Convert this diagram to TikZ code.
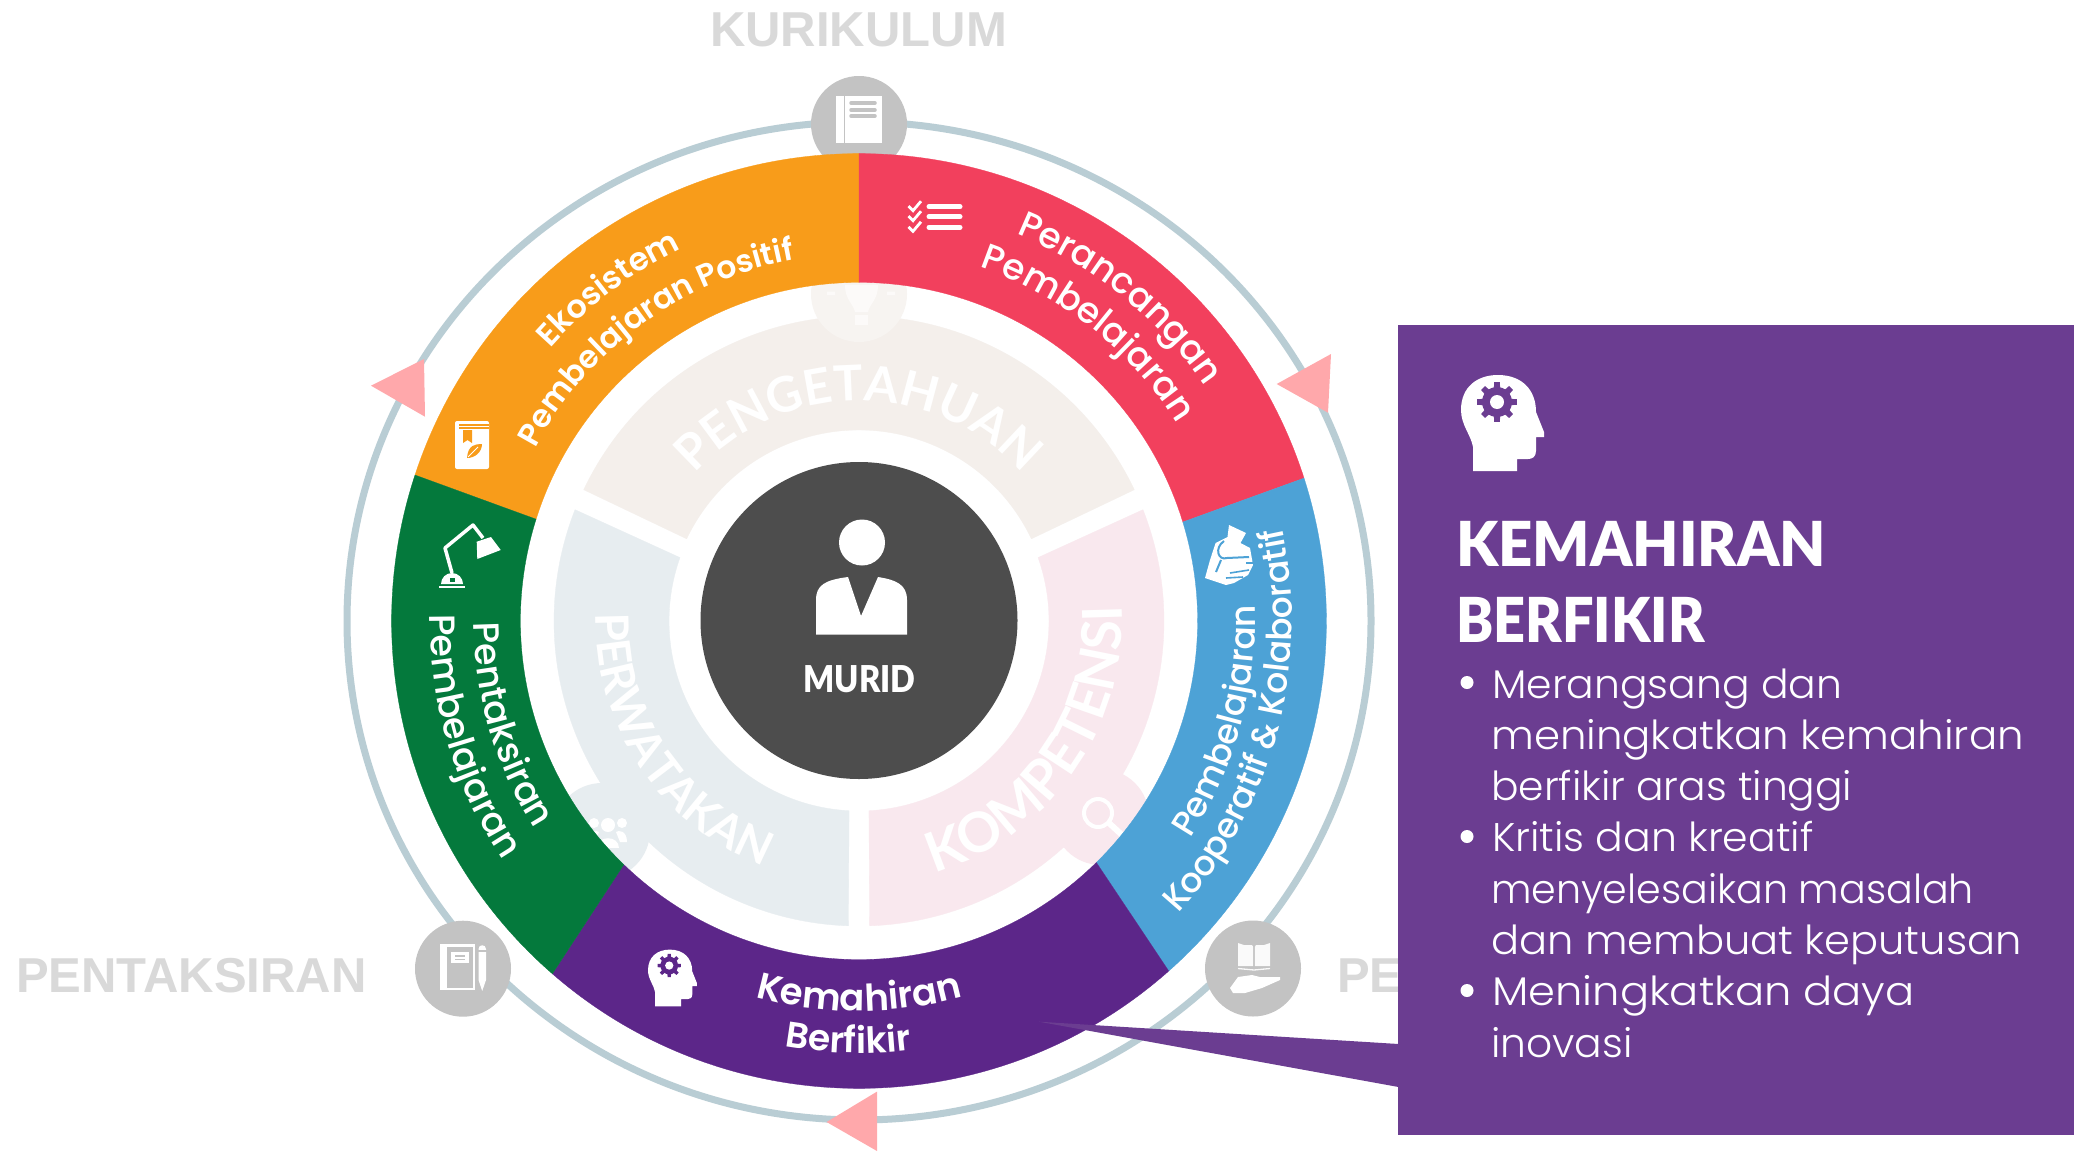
\documentclass[tikz,border=0pt]{standalone}
\usepackage{fontspec}
\usepackage{graphicx}
\setmainfont{Poppins}
\newfontfamily\fL{Poppins Light}
\newfontfamily\fM{Poppins Medium}
\newfontfamily\fS{Poppins SemiBold}
\newfontfamily\fB{Lato}[BoldFont=* Bold]
\newfontfamily\fH{Lato Black}
\newfontfamily\fA{Liberation Sans}
\usetikzlibrary{decorations.text,calc}
\definecolor{cring}{HTML}{B9CDD4}
\definecolor{cgrey}{HTML}{C3C3C3}
\definecolor{clabel}{HTML}{D9D9D9}
\definecolor{corange}{HTML}{F89C1A}
\definecolor{cred}{HTML}{F2405D}
\definecolor{cblue}{HTML}{4DA2D6}
\definecolor{cpurple}{HTML}{5C2689}
\definecolor{cgreen}{HTML}{04793C}
\definecolor{cdark}{HTML}{4D4D4D}
\definecolor{cpanel}{HTML}{6B3D91}
\definecolor{cpink}{HTML}{FFA8AB}
\definecolor{cpa}{HTML}{F4EFEB}
\definecolor{cpb}{HTML}{E7EDF0}
\definecolor{cpc}{HTML}{F9E8EE}
\tikzset{
  toplabel/.style={anchor=base west,inner sep=0pt,text=clabel,font=\fA\bfseries\fontsize{49}{49}\selectfont},
  bodyline/.style={anchor=base west,inner sep=0pt,text=white,font=\fL\fontsize{40}{40}\selectfont},
  headline/.style={anchor=base west,inner sep=0pt,text=white,font=\fH\fontsize{62}{62}\selectfont},
  greycirc/.style={fill=cgrey},
}
\newcommand\annul[7]{\path[fill=#1,draw=#1,line width=.3pt] (#2:#6) arc[start angle=#2,end angle=#3,radius=#6] -- (#4:#7) arc[start angle=#4,end angle=#5,radius=#7] -- cycle;}
\newcommand\arctext[5]{\path[decorate,decoration={text along path,text align=center,text={|\color{white}#1|#2}}] (#3:#5) arc[start angle=#3,end angle=#4,radius=#5];}
\newcommand\headgear[4]{\begin{scope}[shift={(#1,-#2)},scale=#3]
 \fill[white] (12,-96) -- (12,-72) .. controls (10,-60) and (0,-50) .. (0,-35) .. controls (0,-12) and (16,0) .. (37,0) .. controls (60,0) and (75,-14) .. (75,-37) -- (83,-57) -- (83,-62) -- (75,-62) -- (75,-76) .. controls (75,-82) and (71,-84) .. (67,-84) -- (56,-84) -- (56,-96) -- cycle;
 \foreach \a in {0,45,...,315}{\fill[#4] ($(36,-27)+(\a-13:14)$) -- ($(36,-27)+(\a-8:20)$) -- ($(36,-27)+(\a+8:20)$) -- ($(36,-27)+(\a+13:14)$) -- cycle;}
 \fill[#4] (36,-27) circle[radius=15];
 \fill[white] (36,-27) circle[radius=7];
\end{scope}}
\begin{document}
\begin{tikzpicture}[x=1pt,y=1pt]
\useasboundingbox (0,0) rectangle (2082,-1151);
\fill[white] (0,0) rectangle (2082,-1151);
% outer ring
\draw[cring,line width=7pt] (859,-621) ellipse[x radius=512,y radius=499];
% grey icon circles
\fill[greycirc] (859,-124) circle[radius=48];
\fill[greycirc] (463,-968.7) circle[radius=48];
\fill[greycirc] (1253,-968.5) circle[radius=48];
% top book
\fill[white] (835.5,-96) rectangle (843.5,-143);
\fill[white] (845,-96) rectangle (881.5,-143);
\foreach \yy in {103,110,116}{\draw[cgrey,line width=3.5pt,line cap=round] (851,-\yy) -- (875,-\yy);}
% notebook and pencil
\fill[white] (440,-944) rectangle (475,-990);
\fill[cgrey] (447,-946.5) rectangle (473,-987.5);
\fill[white] (451,-952) rectangle (469,-963);
\draw[cgrey,line width=1.5pt] (455,-956) -- (465,-956) (455,-959.5) -- (465,-959.5);
\fill[white] (478.5,-949) .. controls (478.5,-944) and (486,-944) .. (486,-949) -- (486,-980) -- (482.2,-991) -- (478.5,-980) -- cycle;
\draw[cgrey,line width=1.2pt] (478,-951) -- (487,-951);
% book on hand
\fill[white!92!cgrey] (1238,-943) -- (1244,-945) -- (1252,-945) -- (1253.2,-947) -- (1253.2,-966) -- (1238,-966) -- cycle;
\fill[white!92!cgrey] (1270,-943) -- (1264,-945) -- (1256,-945) -- (1254.8,-947) -- (1254.8,-966) -- (1270,-966) -- cycle;
\draw[white!92!cgrey,line width=1.3pt] (1238,-968.5) -- (1254,-970) -- (1270,-968.5);
\fill[white] (1230,-988) -- (1238,-977) -- (1252,-975) -- (1260,-977) -- (1280,-977) -- (1280,-980) -- (1262,-988) -- (1245,-993) -- (1233,-993) -- cycle;
% labels
\node[toplabel] (lkur) at (710,-46.5) {KURIKULUM};
\node[toplabel] (lpen) at (16,-992) {PENTAKSIRAN};
\node[toplabel] (lpe) at (1337,-992) {PE};
\begin{scope}[shift={(859,-621)}]
\annul{cpa}{154.5}{25.5}{25.5}{154.5}{305}{191}
\annul{cpb}{158.6}{268}{267}{160.5}{305}{190}
\annul{cpc}{-88}{21.4}{19.5}{-87}{305}{190}
\end{scope}
% faint circles
\fill[cpa!70!white] (859,-294) circle[radius=48];
\fill[cpb] (602,-831) circle[radius=48];
\fill[cpc] (1101,-817) circle[radius=48];
% bulb
\fill[white!70!cpa] (845,-285) .. controls (845,-300) and (853,-303) .. (855,-312) -- (868,-312) .. controls (870,-303) and (878,-300) .. (878,-285) -- cycle;
\fill[white!70!cpa] (855,-315) rectangle (868,-325);
\fill[white!70!cpa] (827,-291.5) rectangle (835,-295) (887,-291.5) rectangle (895,-295);
% people
\fill[white] (608,-825) circle[radius=7] (594,-823) circle[radius=5] (622,-823) circle[radius=5];
\fill[white] (597,-848) .. controls (597,-835) and (619,-835) .. (619,-848) -- cycle;
\fill[white] (588,-842) .. controls (588,-830) and (597,-830) .. (599,-832) -- (595,-842) -- cycle;
\fill[white] (627,-842) .. controls (627,-830) and (618,-830) .. (616,-832) -- (620,-842) -- cycle;
% magnifier
\draw[white,line width=4pt] (1098,-813) circle[radius=14];
\draw[white,line width=6pt] (1109,-823) -- (1122,-835);
\begin{scope}[shift={(859,-621)}]
% pale sector texts
\arctext{\fB\bfseries\fontsize{49}{49}\selectfont}{PENGETAHUAN}{140}{40}{220}
\arctext{\fB\bfseries\fontsize{46}{46}\selectfont}{PERWATAKAN}{157}{270}{263}
\arctext{\fB\bfseries\fontsize{55}{55}\selectfont}{KOMPETENSI}{-90}{20}{263}
% coloured ring
\annul{corange}{161.8}{90}{90}{162.5}{467.4}{338.6}
\annul{cred}{90}{17.8}{17}{90}{467.4}{338.6}
\annul{cblue}{17.8}{-48.5}{-45.5}{17}{467.4}{338.6}
\annul{cpurple}{-48.5}{-131}{-134}{-45.5}{467.4}{338.6}
\annul{cgreen}{229}{161.8}{162.5}{226}{467.4}{338.6}
% ring texts
\arctext{\fS\fontsize{32}{32}\selectfont}{Ekosistem}{160}{94}{412}
\arctext{\fS\fontsize{31.5}{31.5}\selectfont}{Pembelajaran Positif}{164}{88}{367}
\arctext{\fM\fontsize{36}{36}\selectfont}{Perancangan}{80}{22}{418}
\arctext{\fM\fontsize{36}{36}\selectfont}{Pembelajaran}{80}{23}{374}
\arctext{\fM\fontsize{34.5}{34.5}\selectfont}{Pembelajaran}{-50}{19}{396}
\arctext{\fM\fontsize{34.5}{34.5}\selectfont}{Kooperatif {\&} Kolaboratif}{-65}{35}{433}
\arctext{\fM\fontsize{36.5}{36.5}\selectfont}{Pentaksiran}{165}{228}{385}
\arctext{\fM\fontsize{36.5}{36.5}\selectfont}{Pembelajaran}{161}{232}{429}
\arctext{\fS\fontsize{37}{37}\selectfont}{Kemahiran}{-115}{-65}{390}
\arctext{\fS\fontsize{36}{36}\selectfont}{Berfikir}{-111.5}{-71.5}{432}
\end{scope}
% pink triangles
\fill[cpink] (371,-385.7) -- (424,-359) -- (425,-416.7) -- cycle;
\fill[cpink] (1276.7,-384) -- (1331,-354) -- (1328,-412.7) -- cycle;
\fill[cpink] (826.6,-1122) -- (877,-1091.6) -- (877,-1151) -- cycle;
% checklist
\foreach \yy in {206.7,216.7,227.3}{
 \draw[white,line width=5pt,line cap=round] (929,-\yy) -- (960,-\yy);
 \draw[white,line width=2.8pt] (908.5,-\yy+0.5) -- (913,-\yy-4) -- (921,-\yy+5.5);}
% leaf book
\fill[white,rounded corners=2pt] (455,-421) rectangle (489,-469);
\draw[corange,line width=1.2pt] (459,-425) -- (489,-425) (459,-428) -- (489,-428);
\fill[corange] (463,-430) -- (472,-430) -- (472,-443) -- (467.5,-440) -- (463,-443) -- cycle;
\fill[corange] (467,-458) .. controls (468,-445) and (475,-444) .. (482,-444) .. controls (482,-452) and (475,-458) .. (467,-458) -- cycle;
\draw[white,line width=.8pt] (468,-457) -- (478,-447);
% lamp
\draw[white,line width=3.5pt,line join=round] (452,-573) -- (445,-548) -- (473,-525) -- (483,-538);
\fill[white] (476.7,-541.7) -- (491,-537) -- (500.7,-550) -- (477.3,-559) -- cycle;
\fill[white] (441,-584) arc[start angle=180,end angle=0,radius=11] -- cycle;
\fill[white] (439,-586) rectangle (465,-588);
\fill[cgreen] (449.5,-578) rectangle (454.5,-582);
% handshake
\fill[white] (1229,-525) -- (1246,-533) -- (1240.5,-543) -- (1250,-548) -- (1253,-565) -- (1248,-575) -- (1234,-583) -- (1226,-585) -- (1205,-578) -- (1210,-560) -- (1215.6,-543) -- (1227.5,-537) -- cycle;
\draw[cblue,line width=2pt,line join=round] (1224,-541) .. controls (1214,-548) and (1218,-561) .. (1227,-558) -- (1249,-557);
\draw[cblue,line width=1.6pt] (1246,-563) -- (1253,-563) (1230,-573) -- (1249,-570) (1226,-578) -- (1243,-577);
\draw[cblue,line width=2pt] (1221,-560) -- (1216,-572);
% small head
\headgear{648}{949.6}{0.59}{cpurple}
% centre
\fill[cdark] (859,-620.5) circle[radius=158.5];
\fill[white] (862,-542.5) circle[radius=23];
\fill[white] (816,-634.6) -- (816,-600) .. controls (816,-585) and (825,-580) .. (848,-577) -- (861,-616) -- (878,-577) .. controls (897,-580) and (907,-585) .. (907,-600) -- (907,-634.6) -- cycle;
\node[anchor=base,inner sep=0pt,text=white,font=\fH\fontsize{37}{37}\selectfont] (murid) at (859.4,-692) {\scalebox{.88}[1]{MURID}};
% panel and pointer
\coordinate (ptip) at (1039,-1021.7);
\fill[cpanel] (1398,-325) rectangle (2074,-1135);
\fill[cpanel] (ptip) -- (1398.5,-1044) -- (1398.5,-1087) -- cycle;
\headgear{1461}{375}{1}{cpanel}
\node[headline] (h1) at (1456,-566) {\scalebox{.965}[1]{KEMAHIRAN}};
\node[headline] (h2) at (1456,-642.7) {\scalebox{.90}[1]{BERFIKIR}};
\fill[white] (1467,-682.5) circle[radius=6.5] (1467,-836.5) circle[radius=6.5] (1467,-990.5) circle[radius=6.5];
\node[bodyline] (b1) at (1492,-698) {\scalebox{1.022}[1]{Merangsang dan}};
\node[bodyline] (b2) at (1491,-749.3) {\scalebox{1.047}[1]{meningkatkan kemahiran}};
\node[bodyline] (b3) at (1491,-800.6) {\scalebox{1.02}[1]{berfikir aras tinggi}};
\node[bodyline] (b4) at (1492,-851.9) {\scalebox{1.025}[1]{Kritis dan kreatif}};
\node[bodyline] (b5) at (1491,-903.2) {\scalebox{.99}[1]{menyelesaikan masalah}};
\node[bodyline] (b6) at (1491,-954.5) {\scalebox{1.04}[1]{dan membuat keputusan}};
\node[bodyline] (b7) at (1492,-1005.8) {\scalebox{1.08}[1]{Meningkatkan daya}};
\node[bodyline] (b8) at (1491,-1057.1) {\scalebox{1.02}[1]{inovasi}};
\end{tikzpicture}
\end{document}
